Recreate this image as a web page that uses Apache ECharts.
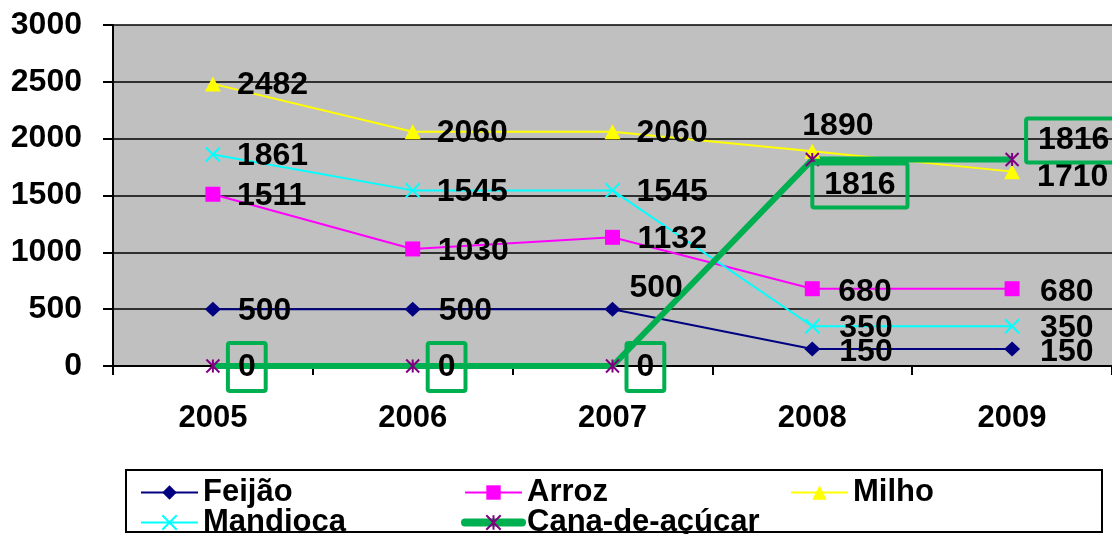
<!DOCTYPE html>
<html>
<head>
<meta charset="utf-8">
<script src="https://cdn.jsdelivr.net/npm/echarts@6/dist/echarts.min.js"></script>
<style>
html,body{margin:0;padding:0;background:#fff;}
#chart{width:1112px;height:534px;}
</style>
</head>
<body>
<div id="chart"></div>
<script>
const categories = ['2005', '2006', '2007', '2008', '2009'];
const feijao = [500, 500, 500, 150, 150];
const arroz = [1511, 1030, 1132, 680, 680];
const milho = [2482, 2060, 2060, 1890, 1710];
const mandioca = [1861, 1545, 1545, 350, 350];
const cana = [0, 0, 0, 1816, 1816];
const seriesNames = ['Feijão', 'Arroz', 'Milho', 'Mandioca', 'Cana-de-açúcar'];

// label placement (style, not data)
const labelOffsets = {
  feijao: [[25, 2], [26, 2], [17, -21], [27, 3], [28, 3]],
  arroz: [[24, 2], [25, 2], [25, 2], [26, 3], [28, 3]],
  milho: [[24, 1], [24, 1], [24, 1], [-10, -25], [25, 6]],
  mandioca: [[24, 2], [24, 2], [24, 2], [27, 2], [28, 2]],
  cana: [[15, 1], [15, 1], [14, 1], [0, 26], [14, -19]]
};
const canaPadding = [[10, 10, 10, 10], [10, 10, 10, 10], [10, 10, 10, 10], [8, 12, 8, 12], [8, 12, 8, 12]];

const FONT = '"Liberation Sans", Arial, sans-serif';
const GREEN = '#00B050';

function baseLabel() {
  return {
    show: true, position: 'inside', align: 'left', verticalAlign: 'middle',
    color: '#000', fontSize: 32, fontWeight: 'bold', fontFamily: FONT, lineHeight: 28
  };
}
function mkData(vals, offs) {
  return vals.map((v, i) => ({ value: v, label: { offset: offs[i] } }));
}

const chart = echarts.init(document.getElementById('chart'));
const legendCommon = {
  itemWidth: 57, itemHeight: 18, orient: 'horizontal', padding: 0,
  textStyle: { fontSize: 31, fontWeight: 'bold', fontFamily: FONT, color: '#000', lineHeight: 30 }
};
chart.setOption({
  animation: false,
  backgroundColor: '#fff',
  grid: { left: 113, top: 25, width: 1006, height: 341, show: true, backgroundColor: '#C0C0C0', borderWidth: 0 },
  graphic: [{
    type: 'rect', shape: { x: 126, y: 470, width: 976, height: 62 },
    style: { fill: 'none', stroke: '#000', lineWidth: 2 }, z: 100
  }],
  legend: [
    Object.assign({ data: [{ name: seriesNames[0], lineStyle: { width: 2 } }], left: 140, top: 477 }, legendCommon),
    Object.assign({ data: [{ name: seriesNames[1], lineStyle: { width: 2 } }], left: 464, top: 477 }, legendCommon),
    Object.assign({ data: [{ name: seriesNames[2], lineStyle: { width: 2 } }], left: 790, top: 477 }, legendCommon),
    Object.assign({ data: [{ name: seriesNames[3], lineStyle: { width: 2 } }], left: 140, top: 507 }, legendCommon),
    Object.assign({ data: [{ name: seriesNames[4], lineStyle: { width: 8, color: GREEN, cap: 'round' } }], left: 461, top: 507 }, legendCommon)
  ],
  xAxis: {
    type: 'category', data: categories, boundaryGap: true,
    axisLine: { show: true, lineStyle: { color: '#000', width: 2 } },
    axisTick: { show: true, length: 9, lineStyle: { color: '#000', width: 2 } },
    axisLabel: { margin: 37, fontSize: 31, fontWeight: 'bold', fontFamily: FONT, color: '#000' },
    splitLine: { show: false }
  },
  yAxis: {
    type: 'value', min: 0, max: 3000, interval: 500,
    axisLine: { show: true, lineStyle: { color: '#000', width: 2 } },
    axisTick: { show: true, length: 10, lineStyle: { color: '#000', width: 2 } },
    axisLabel: { margin: 31, fontSize: 32, fontWeight: 'bold', fontFamily: FONT, color: '#000', formatter: v => String(v) },
    splitLine: { show: true, lineStyle: { color: '#000', width: 1.5 } }
  },
  series: [
    {
      name: seriesNames[0], type: 'line', data: mkData(feijao, labelOffsets.feijao),
      symbol: 'diamond', symbolSize: [16, 15],
      itemStyle: { color: '#000080' }, lineStyle: { color: '#000080', width: 2 },
      label: baseLabel()
    },
    {
      name: seriesNames[1], type: 'line', data: mkData(arroz, labelOffsets.arroz),
      symbol: 'rect', symbolSize: 15,
      itemStyle: { color: '#FF00FF' }, lineStyle: { color: '#FF00FF', width: 2 },
      label: baseLabel()
    },
    {
      name: seriesNames[2], type: 'line', data: mkData(milho, labelOffsets.milho),
      symbol: 'triangle', symbolSize: [16, 15],
      itemStyle: { color: '#FFFF00' }, lineStyle: { color: '#FFFF00', width: 2 },
      label: baseLabel()
    },
    {
      name: seriesNames[3], type: 'line', data: mkData(mandioca, labelOffsets.mandioca),
      symbol: 'path://M0,0L10,10M10,0L0,10', symbolSize: 14,
      itemStyle: { color: '#00FFFF', borderColor: '#00FFFF', borderWidth: 2 },
      lineStyle: { color: '#00FFFF', width: 2 },
      label: baseLabel()
    },
    {
      name: seriesNames[4], type: 'line',
      data: cana.map((v, i) => ({ value: v, label: { offset: labelOffsets.cana[i], padding: canaPadding[i] } })),
      symbol: 'path://M0,0L10,10M10,0L0,10M5,0L5,10', symbolSize: 13,
      itemStyle: { color: '#800080', borderColor: '#800080', borderWidth: 2 },
      lineStyle: { color: GREEN, width: 6 },
      label: Object.assign(baseLabel(), { borderColor: GREEN, borderWidth: 4, borderRadius: 2 })
    }
  ]
});
</script>
</body>
</html>
